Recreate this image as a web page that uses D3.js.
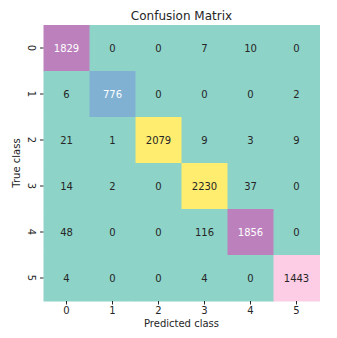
<!DOCTYPE html>
<html lang="en">
<head>
    <meta charset="UTF-8">
    <title>Confusion Matrix</title>
    <script src="https://cdn.jsdelivr.net/npm/d3@7"></script>
    <style>
        body { margin: 0; background: #fff; }
        text { font-family: "DejaVu Sans", sans-serif; }
    </style>
</head>
<body>
<svg id="graphDiv"></svg>
<script>
    var classes = ["0", "1", "2", "3", "4", "5"];
    // rows = true class, columns = predicted class
    var matrix = [
        [1829, 0, 0, 7, 10, 0],
        [6, 776, 0, 0, 0, 2],
        [21, 1, 2079, 9, 3, 9],
        [14, 2, 0, 2230, 37, 0],
        [48, 0, 0, 116, 1856, 0],
        [4, 0, 0, 4, 0, 1443]
    ];

    var w = 337, h = 338;
    var padLeft = 43.5, padTop = 25, size = 276;

    var svg = d3.select("#graphDiv").attr("width", w).attr("height", h);

    var x = d3.scaleBand().domain(classes).range([padLeft, padLeft + size]);
    var y = d3.scaleBand().domain(classes).range([padTop, padTop + size]);

    var maxVal = d3.max(matrix, function (r) { return d3.max(r); });
    var color = d3.scaleQuantize().domain([0, maxVal]).range(d3.schemeSet3);

    var cells = [];
    for (var i = 0; i < matrix.length; i++) {
        for (var j = 0; j < matrix[i].length; j++) {
            cells.push({row: classes[i], col: classes[j], value: matrix[i][j]});
        }
    }

    svg.selectAll("rect.cell")
        .data(cells).enter().append("rect")
        .attr("class", "cell")
        .attr("x", function (d) { return x(d.col); })
        .attr("y", function (d) { return y(d.row); })
        .attr("width", x.bandwidth() + 0.5)
        .attr("height", y.bandwidth() + 0.5)
        .style("fill", function (d) { return color(d.value); });

    svg.selectAll("text.val")
        .data(cells).enter().append("text")
        .attr("class", "val")
        .attr("x", function (d) { return x(d.col) + x.bandwidth() / 2; })
        .attr("y", function (d) { return y(d.row) + y.bandwidth() / 2; })
        .attr("text-anchor", "middle")
        .attr("dominant-baseline", "central")
        .style("font-size", "10px")
        .style("fill", function (d) {
            var lum = d3.lab(color(d.value)).l;
            return lum < 70 ? "#ffffff" : "#262626";
        })
        .text(function (d) { return d.value; });

    // x axis
    var xAxis = svg.append("g")
        .attr("transform", "translate(0," + (padTop + size) + ")")
        .call(d3.axisBottom(x).tickSize(3.5).tickPadding(2));
    xAxis.select(".domain").remove();
    xAxis.selectAll("text").style("font-size", "10px").style("fill", "#262626")
        .style("font-family", "DejaVu Sans");
    xAxis.selectAll("line").style("stroke", "#262626");

    // y axis
    var yAxis = svg.append("g")
        .attr("transform", "translate(" + padLeft + ",0)")
        .call(d3.axisLeft(y).tickSize(3.5).tickPadding(3));
    yAxis.select(".domain").remove();
    yAxis.selectAll("line").style("stroke", "#262626");
    yAxis.selectAll("text")
        .style("font-size", "10px").style("fill", "#262626")
        .style("font-family", "DejaVu Sans")
        .attr("text-anchor", "middle")
        .attr("dominant-baseline", "central")
        .attr("x", null).attr("dy", null)
        .attr("transform", "translate(-12,0) rotate(90)");

    svg.append("text")
        .attr("x", padLeft + size / 2)
        .attr("y", 20)
        .attr("text-anchor", "middle")
        .style("font-size", "12px")
        .style("fill", "#262626")
        .text("Confusion Matrix");

    svg.append("text")
        .attr("x", padLeft + size / 2)
        .attr("y", 327)
        .attr("text-anchor", "middle")
        .style("font-size", "10px")
        .style("fill", "#262626")
        .text("Predicted class");

    svg.append("text")
        .attr("transform", "translate(20," + (padTop + size / 2) + ") rotate(-90)")
        .attr("text-anchor", "middle")
        .style("font-size", "10px")
        .style("fill", "#262626")
        .text("True class");
</script>
</body>
</html>
